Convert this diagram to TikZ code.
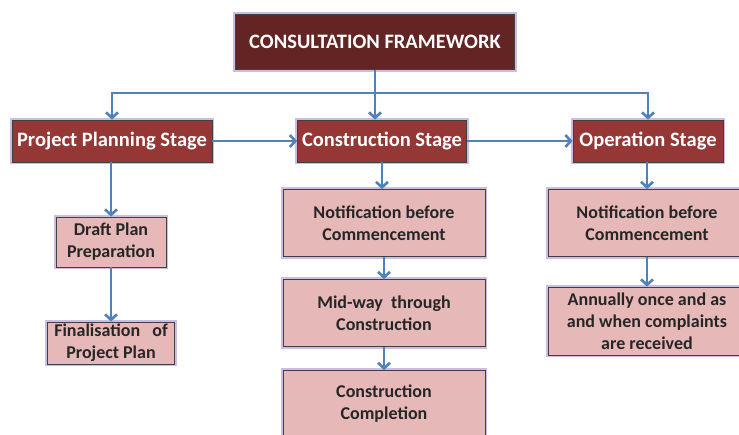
\documentclass[tikz,border=0pt]{standalone}
\usepackage{fontspec}
\setmainfont{Carlito}
\usetikzlibrary{arrows.meta}

\definecolor{titlered}{HTML}{632523}
\definecolor{stagered}{HTML}{953735}
\definecolor{taskpink}{HTML}{E6B9B8}
\definecolor{linkblue}{HTML}{4F81BD}
\definecolor{glow}{HTML}{CDBDE2}

\tikzset{
  boxbase/.style={draw=black!75, line width=0.8pt, inner sep=0pt, align=center,
    preaction={draw=glow, line width=4.5pt}},
  titlebox/.style={boxbase, fill=titlered, text=white,
    font=\bfseries\fontsize{20.5}{24}\selectfont, minimum width=279pt, minimum height=55pt},
  stagebox/.style={boxbase, fill=stagered, text=white,
    font=\bfseries\fontsize{20.5}{24}\selectfont, minimum height=42pt},
  taskbox/.style={boxbase, fill=taskpink, text=black!85,
    font=\bfseries\fontsize{18}{22}\selectfont},
  link/.style={draw=linkblue, line width=2.6pt, -{Straight Barb[length=5.5pt,width=12pt]}},
  plain/.style={draw=linkblue, line width=2.6pt}
}

\begin{document}
\begin{tikzpicture}[x=1pt, y=-1pt]
\clip (0,0) rectangle (739,434);
\fill[white] (0,0) rectangle (739,434);

\node[titlebox] at (375,42) (frame) {CONSULTATION FRAMEWORK};

\node[stagebox, minimum width=200pt] at (112,141) (planning) {Project Planning Stage};
\node[stagebox, minimum width=169pt] at (382,141) (construction) {Construction Stage};
\node[stagebox, minimum width=150pt] at (648,141) (operation) {Operation Stage};

\node[taskbox, minimum width=110pt, minimum height=50pt] at (111,242) (draft) {Draft Plan\\Preparation};
\node[taskbox, minimum width=127pt, minimum height=42pt] at (111,343) (final) {Finalisation\ \ \ of\\Project Plan};

\node[taskbox, minimum width=202pt, minimum height=67pt] at (384,223) (notice) {Notification\ before\\Commencement};
\node[taskbox, minimum width=202pt, minimum height=67pt] at (384,313) (midway) {Mid-way\ \ through\\Construction};
\node[taskbox, minimum width=202pt, minimum height=67pt] at (384,404) (complete) {Construction\\Completion};

\node[taskbox, minimum width=198pt, minimum height=67pt] at (647,223) (opnotice) {Notification\ before\\Commencement};
\node[taskbox, minimum width=198pt, minimum height=68pt] at (647,321) (annual) {Annually once and as\\and when complaints\\are received};

\coordinate (split) at (375,93);

\draw[plain] (frame) -- (split);
\draw[link] (split) -| (planning);
\draw[link] (split) -| (operation);
\draw[link] (split) -- (split |- construction.north);

\draw[link] (planning) -- (construction);
\draw[link] (construction) -- (operation);

\draw[link] (planning.south -| draft) -- (draft);
\draw[link] (draft) -- (final);

\draw[link] (construction.south) -- (construction.south |- notice.north);
\draw[link] (notice) -- (midway);
\draw[link] (midway) -- (complete);

\draw[link] (operation.south -| opnotice) -- (opnotice);
\draw[link] (opnotice) -- (annual);
\end{tikzpicture}
\end{document}
